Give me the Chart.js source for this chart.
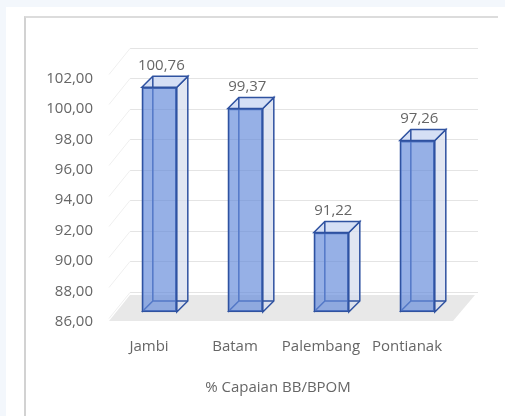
<!DOCTYPE html>
<html>
<head>
<meta charset="utf-8">
<script src="https://cdn.jsdelivr.net/npm/chart.js@4.4.0/dist/chart.umd.min.js"></script>
<style>
  html, body { margin: 0; padding: 0; }
  body { width: 505px; height: 416px; background: #f3f7fc; position: relative; overflow: hidden; }
  #sheet { position: absolute; left: 6px; top: 7px; width: 499px; height: 409px; background: #fff; }
  #frame { position: absolute; left: 24px; top: 16px; width: 474px; height: 400px; background: #fff;
           border-left: 2px solid #d2d2d2; border-top: 2px solid #dcdcdc; box-sizing: border-box; }
  #chart { position: absolute; left: 0; top: 0; }
</style>
</head>
<body>
<div id="sheet"></div>
<div id="frame"></div>
<canvas id="chart" width="505" height="416"></canvas>
<script>
const categories = ['Jambi', 'Batam', 'Palembang', 'Pontianak'];
const capaian = [100.76, 99.37, 91.22, 97.26];
const yTickValues = [86, 88, 90, 92, 94, 96, 98, 100, 102];
const gridValues = [88, 90, 92, 94, 96, 98, 100, 102, 104];
const axisTitle = '% Capaian BB/BPOM';

const textColor = '#666666';
const fontFamily = "'Open Sans', 'Noto Sans', sans-serif";
const depth = 11;          // 3D depth of the columns
const frontShift = 0.66;   // front faces sit a bit above the wall scale
const sideShift = 0.12;    // and a bit right of the category labels

const fmt = v => v.toFixed(2).replace('.', ',');

// floor, back wall gridlines and side wall lines
const wallPlugin = {
    id: 'walls',
    beforeDatasetsDraw(chart) {
        const { ctx, chartArea: { left, right } } = chart;
        const y = chart.scales.y;
        const y0 = y.getPixelForValue(86);
        ctx.save();
        ctx.fillStyle = '#e8e8e8';
        ctx.beginPath();
        ctx.moveTo(left + 3, y0 - 1);
        ctx.lineTo(right + 3, y0 - 1);
        ctx.lineTo(right + 25, y0 - 27);
        ctx.lineTo(left + 24, y0 - 27);
        ctx.closePath();
        ctx.fill();

        ctx.lineWidth = 1;
        gridValues.forEach(v => {
            const py = Math.round(y.getPixelForValue(v)) + 0.5;
            ctx.strokeStyle = '#e4e4e4';
            ctx.beginPath();
            ctx.moveTo(left + 24, py);
            ctx.lineTo(right + 28, py);
            ctx.stroke();
            ctx.strokeStyle = '#efefef';
            ctx.beginPath();
            ctx.moveTo(left + 24, py);
            ctx.lineTo(left + 3, py + 26);
            ctx.stroke();
        });
        ctx.restore();
    }
};

function barBoxes(chart) {
    const meta = chart.getDatasetMeta(0);
    return meta.data.map(el => {
        const p = el.getProps(['x', 'y', 'base', 'width'], true);
        return { l: p.x - p.width / 2, r: p.x + p.width / 2, t: p.y, b: p.base, x: p.x };
    });
}

// back edges, side and top faces behind the translucent front face
const columnPlugin = {
    id: 'columns3d',
    beforeDatasetsDraw(chart) {
        const ctx = chart.ctx;
        ctx.save();
        ctx.lineWidth = 1.5;
        ctx.strokeStyle = '#2f52a0';
        barBoxes(chart).forEach(({ l, r, t, b }) => {
            // side face
            ctx.fillStyle = 'rgba(215,222,238,0.75)';
            ctx.beginPath();
            ctx.moveTo(r, t); ctx.lineTo(r + depth, t - depth);
            ctx.lineTo(r + depth, b - depth); ctx.lineTo(r, b);
            ctx.closePath(); ctx.fill(); ctx.stroke();
            // top face
            ctx.fillStyle = 'rgba(208,220,244,0.9)';
            ctx.beginPath();
            ctx.moveTo(l, t); ctx.lineTo(l + depth, t - depth);
            ctx.lineTo(r + depth, t - depth); ctx.lineTo(r, t);
            ctx.closePath(); ctx.fill(); ctx.stroke();
            // hidden edges seen through
            ctx.beginPath();
            ctx.moveTo(l + depth, t - depth); ctx.lineTo(l + depth, b - depth);
            ctx.lineTo(r + depth, b - depth);
            ctx.moveTo(l, b); ctx.lineTo(l + depth, b - depth);
            ctx.stroke();
        });
        ctx.restore();
    },
    afterDatasetsDraw(chart) {
        const ctx = chart.ctx;
        ctx.save();
        ctx.font = '15px ' + fontFamily;
        ctx.fillStyle = textColor;
        ctx.textAlign = 'center';
        ctx.textBaseline = 'middle';
        barBoxes(chart).forEach(({ x, t }, i) => {
            ctx.fillText(fmt(capaian[i]), x + 2, t - depth - 11);
        });
        ctx.restore();
    }
};

new Chart(document.getElementById('chart'), {
    type: 'bar',
    data: {
        labels: categories,
        datasets: [{
            label: axisTitle,
            data: capaian.map((v, i) => ({ x: i, y: v })),
            xAxisID: 'xb',
            yAxisID: 'yb',
            base: 86,
            barThickness: 35,
            backgroundColor: 'rgba(100,138,218,0.68)',
            borderColor: '#2f52a0',
            borderWidth: 1.5,
            borderSkipped: false
        }]
    },
    options: {
        responsive: false,
        animation: false,
        devicePixelRatio: 1,
        layout: { padding: { top: 48, right: 55, left: 0, bottom: 0 } },
        plugins: {
            legend: { display: false },
            tooltip: { enabled: false }
        },
        scales: {
            x: {
                type: 'category',
                labels: categories,
                position: 'bottom',
                offset: true,
                grid: { display: false, drawTicks: false },
                border: { display: false },
                ticks: { color: textColor, font: { family: fontFamily, size: 15 }, padding: 16, maxRotation: 0 },
                title: {
                    display: true,
                    text: axisTitle,
                    color: textColor,
                    font: { family: fontFamily, size: 15 },
                    padding: { top: 0, bottom: 19 }
                },
                afterFit: s => { s.height = 94; }
            },
            xb: { type: 'linear', display: false, offset: false, min: -0.5 - sideShift, max: 3.5 - sideShift },
            y: {
                type: 'linear',
                position: 'left',
                min: 86,
                max: 104,
                grid: { display: false, drawTicks: false },
                border: { display: false },
                afterBuildTicks: s => { s.ticks = yTickValues.map(v => ({ value: v })); },
                ticks: {
                    color: textColor,
                    font: { family: fontFamily, size: 15 },
                    padding: 13,
                    callback: v => fmt(v)
                },
                afterFit: s => { s.width = 106; }
            },
            yb: { type: 'linear', display: false, min: 86 - frontShift, max: 104 - frontShift }
        }
    },
    plugins: [wallPlugin, columnPlugin]
});
</script>
</body>
</html>
